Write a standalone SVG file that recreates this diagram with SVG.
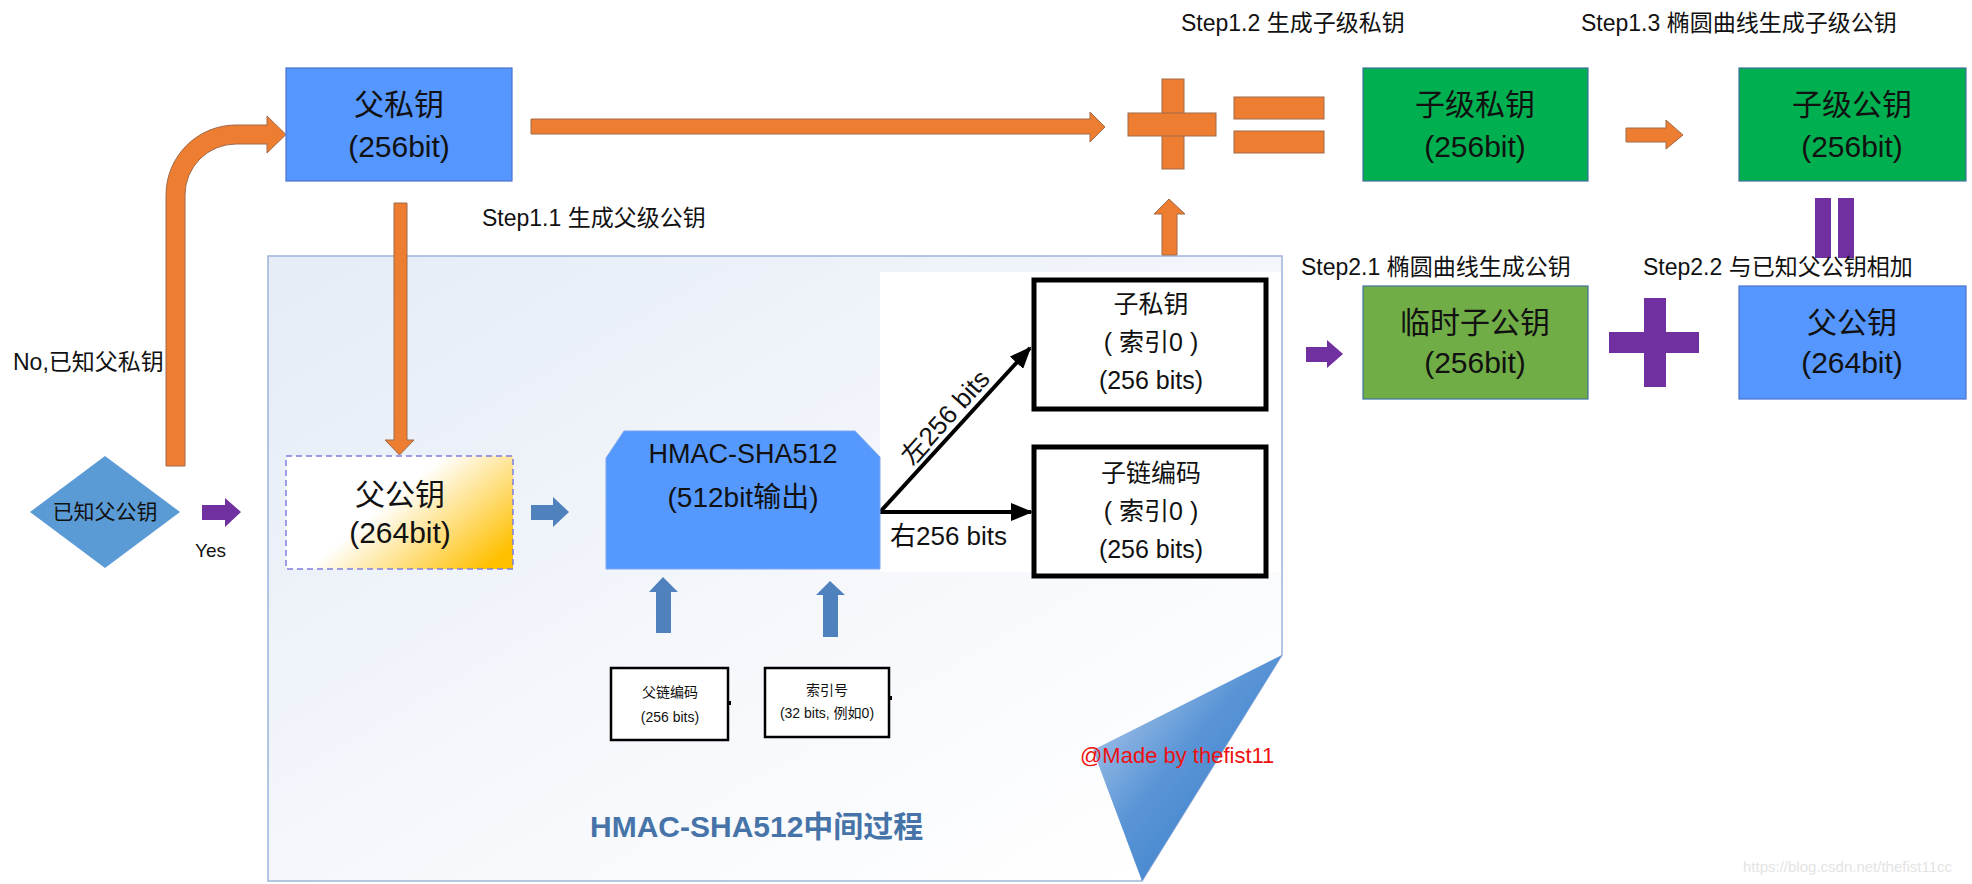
<svg xmlns="http://www.w3.org/2000/svg" width="1972" height="884" viewBox="0 0 1972 884">
<defs>
<style>
text{font-family:'Liberation Sans','Noto Sans CJK SC',sans-serif;fill:#111;}
.box{font-size:30px;text-anchor:middle;}
.step{font-size:23px;}
.mid{font-size:25px;text-anchor:middle;}
.small{font-size:14px;text-anchor:middle;}
.orange{fill:#ed7d31;stroke:#a06a4a;stroke-width:1;}
.purple{fill:#7030a0;}
.barrow{fill:#4f81bd;}
.blue{fill:#5596ff;stroke:#4a72d0;stroke-width:1.2;}
.green{fill:#00b050;stroke:#41719c;stroke-width:1.2;}
.lgreen{fill:#70ad47;stroke:#41719c;stroke-width:1.2;}
.kbox{fill:#fff;stroke:#000;stroke-width:5;}
.sbox{fill:#fff;stroke:#000;stroke-width:2.5;}
.bline{stroke:#000;stroke-width:4;fill:none;}
</style>
<linearGradient id="panelGrad" x1="0" y1="0.1" x2="0.85" y2="1">
<stop offset="0" stop-color="#e6edf7"/>
<stop offset="0.6" stop-color="#f6f8fc"/>
<stop offset="1" stop-color="#ffffff"/>
</linearGradient>
<linearGradient id="goldGrad" x1="0" y1="0.2" x2="1" y2="0.8">
<stop offset="0" stop-color="#ffffff"/>
<stop offset="0.42" stop-color="#ffffff"/>
<stop offset="0.75" stop-color="#ffdb70"/>
<stop offset="1" stop-color="#ffc000"/>
</linearGradient>
<linearGradient id="curlGrad" x1="0" y1="0" x2="1" y2="1">
<stop offset="0" stop-color="#c5d7f0"/>
<stop offset="0.45" stop-color="#5a95d6"/>
<stop offset="1" stop-color="#2e75c6"/>
</linearGradient>
<marker id="ah" markerUnits="userSpaceOnUse" markerWidth="22" markerHeight="18" refX="20" refY="9" orient="auto">
<path d="M0,0 L22,9 L0,18 Z" fill="#000"/>
</marker>
</defs>
<rect width="1972" height="884" fill="#fff"/>

<g id="panel">
<path d="M268,256 H1282 V655 L1142,881 H268 Z" fill="url(#panelGrad)" stroke="#9db4da" stroke-width="1.5"/>
<rect x="880" y="272" width="401" height="300" fill="#fff"/>
<path d="M1282,655 L1093,750 L1142,881 Z" fill="url(#curlGrad)"/>
<text x="590" y="837" style="font-size:30px;font-weight:bold;fill:#4674a8;">HMAC-SHA512中间过程</text>
<text x="1080" y="763" style="font-size:22px;fill:#ee1111;">@Made by thefist11</text>
</g>

<g id="connectors">
<path class="orange" d="M166,466 V195 A70,70 0 0 1 236,125 H267 V116 L286,134.5 L267,153 V144 H236 A51,51 0 0 0 185,195 V466 Z"/>
<path class="orange" d="M394,203 V440 H385 L399.5,455 L414,440 H407 V203 Z"/>
<path class="orange" d="M531,119 H1090 V112 L1105,127 L1090,142 V134 H531 Z"/>
<path class="orange" d="M1162,255 V214 H1154 L1169,199 L1185,214 H1177 V255 Z"/>
<path class="orange" d="M1626,128 H1666 V120 L1683,135 L1666,149 V142 H1626 Z"/>
<path class="purple" d="M202,505 H225 V498 L241,512 L225,527 V520 H202 Z"/>
<path class="purple" d="M1306,347 H1327 V340 L1343,354 L1327,368 V362 H1306 Z"/>
<path class="barrow" d="M531,505 H553 V497 L569,512 L553,527 V520 H531 Z"/>
<path class="barrow" d="M656,633 V592 H649 L663,577 L678,592 H671 V633 Z"/>
<path class="barrow" d="M823,637 V595 H816 L830,581 L845,595 H838 V637 Z"/>
<line class="bline" x1="880" y1="512" x2="1030" y2="348" marker-end="url(#ah)"/>
<line class="bline" x1="880" y1="512" x2="1031" y2="512" marker-end="url(#ah)"/>
<text transform="translate(946,418) rotate(-48)" x="0" y="8" style="font-size:26px;text-anchor:middle;">左256 bits</text>
<text x="890" y="545" style="font-size:26px;">右256 bits</text>
<rect x="729" y="701" width="2" height="4" fill="#000"/>
<rect x="890" y="696" width="2" height="4" fill="#000"/>
</g>

<g id="op-plus1">
<rect class="orange" x="1162" y="79" width="22" height="90" stroke="none"/>
<rect class="orange" x="1128" y="113" width="88" height="23" stroke="none"/>
</g>
<g id="op-eq1">
<rect class="orange" x="1234" y="97" width="90" height="22" stroke="none"/>
<rect class="orange" x="1234" y="131" width="90" height="22" stroke="none"/>
</g>
<g id="op-plus2">
<rect class="purple" x="1644" y="298" width="22" height="89"/>
<rect class="purple" x="1609" y="332" width="90" height="21"/>
</g>
<g id="op-eq2">
<rect class="purple" x="1815" y="198" width="16" height="60"/>
<rect class="purple" x="1838" y="198" width="16" height="60"/>
</g>

<g id="labels">
<text x="13" y="370" class="step">No,已知父私钥</text>
<text x="195" y="557" style="font-size:19px;">Yes</text>
<text x="482" y="226" class="step">Step1.1 生成父级公钥</text>
<text x="1181" y="31" class="step">Step1.2 生成子级私钥</text>
<text x="1581" y="31" class="step">Step1.3 椭圆曲线生成子级公钥</text>
<text x="1301" y="275" class="step">Step2.1 椭圆曲线生成公钥</text>
<text x="1643" y="275" class="step">Step2.2 与已知父公钥相加</text>
<text x="1743" y="872" style="font-size:15px;fill:#e4e4e4;">https://blog.csdn.net/thefist11cc</text>
</g>

<g id="known-pub">
<path d="M105,456 L180,512 L105,568 L30,512 Z" fill="#5b9bd5"/>
<text x="105" y="519" style="font-size:21px;text-anchor:middle;">已知父公钥</text>
</g>

<g id="parent-priv">
<rect class="blue" x="286" y="68" width="226" height="113"/>
<text class="box" x="399" y="115">父私钥</text>
<text class="box" x="399" y="157">(256bit)</text>
</g>

<g id="parent-pub">
<rect x="286" y="456" width="227" height="113" fill="url(#goldGrad)" stroke="#7f7fe0" stroke-width="1.5" stroke-dasharray="6,4"/>
<text class="box" x="400" y="505">父公钥</text>
<text class="box" x="400" y="543">(264bit)</text>
</g>

<g id="hmac">
<path d="M624,431 H855 L880,457 V569 H606 V458 Z" fill="#5599ff" stroke="#7aa6f0" stroke-width="1"/>
<text x="743" y="463" style="font-size:27px;text-anchor:middle;">HMAC-SHA512</text>
<text x="743" y="507" style="font-size:28px;text-anchor:middle;">(512bit输出)</text>
</g>

<g id="child-priv-idx">
<rect class="kbox" x="1034" y="280" width="232" height="129"/>
<text class="mid" x="1151" y="313">子私钥</text>
<text class="mid" x="1151" y="351">( 索引0 )</text>
<text class="mid" x="1151" y="389">(256 bits)</text>
</g>

<g id="child-chain">
<rect class="kbox" x="1034" y="447" width="232" height="129"/>
<text class="mid" x="1151" y="482">子链编码</text>
<text class="mid" x="1151" y="520">( 索引0 )</text>
<text class="mid" x="1151" y="558">(256 bits)</text>
</g>

<g id="parent-chain">
<rect class="sbox" x="611" y="668" width="117" height="72"/>
<text class="small" x="670" y="697">父链编码</text>
<text class="small" x="670" y="722">(256 bits)</text>
</g>

<g id="index-no">
<rect class="sbox" x="765" y="668" width="124" height="69"/>
<text class="small" x="827" y="695">索引号</text>
<text class="small" x="827" y="718">(32 bits, 例如0)</text>
</g>

<g id="child-priv">
<rect class="green" x="1363" y="68" width="225" height="113"/>
<text class="box" x="1475" y="115">子级私钥</text>
<text class="box" x="1475" y="157">(256bit)</text>
</g>

<g id="child-pub">
<rect class="green" x="1739" y="68" width="227" height="113"/>
<text class="box" x="1852" y="115">子级公钥</text>
<text class="box" x="1852" y="157">(256bit)</text>
</g>

<g id="temp-child-pub">
<rect class="lgreen" x="1363" y="286" width="225" height="113"/>
<text class="box" x="1475" y="333">临时子公钥</text>
<text class="box" x="1475" y="373">(256bit)</text>
</g>

<g id="parent-pub-right">
<rect class="blue" x="1739" y="286" width="227" height="113"/>
<text class="box" x="1852" y="333">父公钥</text>
<text class="box" x="1852" y="373">(264bit)</text>
</g>
</svg>
